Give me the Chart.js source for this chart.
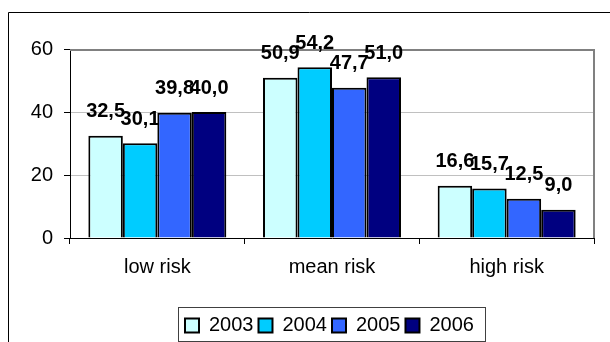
<!DOCTYPE html>
<html><head><meta charset="utf-8">
<script src="https://cdn.jsdelivr.net/npm/chart.js@4/dist/chart.umd.min.js"></script>
<style>html,body{margin:0;padding:0;background:#fff;overflow:hidden}#wrap{width:610px;height:342px;position:relative}</style>
</head><body><div id="wrap"><canvas id="c" width="610" height="342"></canvas></div>
<script>
const categories = ['low risk', 'mean risk', 'high risk'];
const years = ['2003', '2004', '2005', '2006'];
const values2003 = [32.5, 50.9, 16.6];
const values2004 = [30.1, 54.2, 15.7];
const values2005 = [39.8, 47.7, 12.5];
const values2006 = [40.0, 51.0, 9.0];
const yTicks = [0, 20, 40, 60];
const seriesColors = ['#CCFFFF', '#00CCFF', '#3366FF', '#000080'];

const FONT = "'Liberation Sans', Arial, sans-serif";
const allValues = [values2003, values2004, values2005, values2006];

const frame = {
  id: 'frame',
  beforeDraw(chart) {
    const ctx = chart.ctx;
    ctx.save();
    ctx.strokeStyle = '#000';
    ctx.lineWidth = 1;
    ctx.beginPath();
    ctx.moveTo(8.5, chart.height);
    ctx.lineTo(8.5, 12.5);
    ctx.lineTo(chart.width, 12.5);
    ctx.stroke();
    ctx.restore();
  },
  beforeDatasetsDraw(chart) {
    const {ctx, chartArea: a} = chart;
    ctx.save();
    ctx.strokeStyle = '#808080';
    ctx.lineWidth = 2;
    ctx.beginPath();
    ctx.moveTo(a.left, a.top + 1);
    ctx.lineTo(a.right, a.top + 1);
    ctx.lineTo(a.right, a.bottom);
    ctx.stroke();
    ctx.restore();
  },
  afterLayout(chart) {
    const lg = chart.legend;
    if (!lg) return;
    lg.left = 180; lg.right = 490;
    lg.top = 310.5; lg.bottom = 340;
  },
  afterDatasetsDraw(chart) {
    const ctx = chart.ctx;
    ctx.save();
    ctx.font = 'bold 20px ' + FONT;
    ctx.fillStyle = '#000';
    ctx.textAlign = 'center';
    ctx.textBaseline = 'middle';
    chart.data.datasets.forEach((ds, i) => {
      const meta = chart.getDatasetMeta(i);
      meta.data.forEach((bar, j) => {
        const v = ds.data[j];
        ctx.fillText(v.toFixed(1).replace('.', ','), bar.x, bar.y - 24);
      });
    });
    ctx.restore();
  },
  afterDraw(chart) {
    const lg = chart.legend;
    if (!lg || !lg.legendHitBoxes || !lg.legendHitBoxes.length) return;
    const hb = lg.legendHitBoxes;
    const first = hb[0], last = hb[hb.length - 1];
    const ctx = chart.ctx;
    ctx.save();
    ctx.strokeStyle = '#404040';
    ctx.lineWidth = 1;
    ctx.strokeRect(Math.round(first.left - 7) + 0.5, 307.5, Math.round(last.left + last.width + 11 - (first.left - 7)), 34);
    ctx.restore();
  }
};

new Chart(document.getElementById('c'), {
  type: 'bar',
  data: {
    labels: categories,
    datasets: years.map((y, i) => ({
      label: y,
      data: allValues[i],
      backgroundColor: seriesColors[i],
      borderColor: '#000',
      borderWidth: 2,
      categoryPercentage: 0.79,
      barPercentage: 1.0
    }))
  },
  options: {
    responsive: false,
    animation: false,
    devicePixelRatio: 1,
    layout: { padding: { top: 49, left: 0, right: 16, bottom: 0 } },
    plugins: {
      tooltip: { enabled: false },
      legend: {
        position: 'bottom',
        align: 'start',
        labels: {
          boxWidth: 14, boxHeight: 14, padding: 5,
          color: '#000',
          font: { size: 20, family: FONT }
        }
      }
    },
    scales: {
      x: {
        afterFit(s) { const lh = (s.chart.legend && s.chart.legend.height) || 0; s.height = Math.max(10, 104 - lh); },
        grid: { offset: true, drawOnChartArea: false, drawTicks: true, tickLength: 6, tickColor: '#000' },
        border: { color: '#000', width: 1 },
        ticks: { color: '#000', padding: 11, font: { size: 20, family: FONT } }
      },
      y: {
        min: 0, max: 60,
        afterFit(s) { s.width = 70; },
        afterBuildTicks(s) { s.ticks = yTicks.map(v => ({ value: v })); },
        grid: {
          color: (c) => (c.tick && (c.tick.value === 0 || c.tick.value === 60)) ? 'rgba(0,0,0,0)' : '#c0c0c0',
          lineWidth: 1,
          drawTicks: true, tickLength: 6, tickColor: '#000'
        },
        border: { color: '#000', width: 1 },
        ticks: { color: '#000', padding: 11, font: { size: 20, family: FONT } }
      }
    }
  },
  plugins: [frame]
});
</script>
</body></html>
